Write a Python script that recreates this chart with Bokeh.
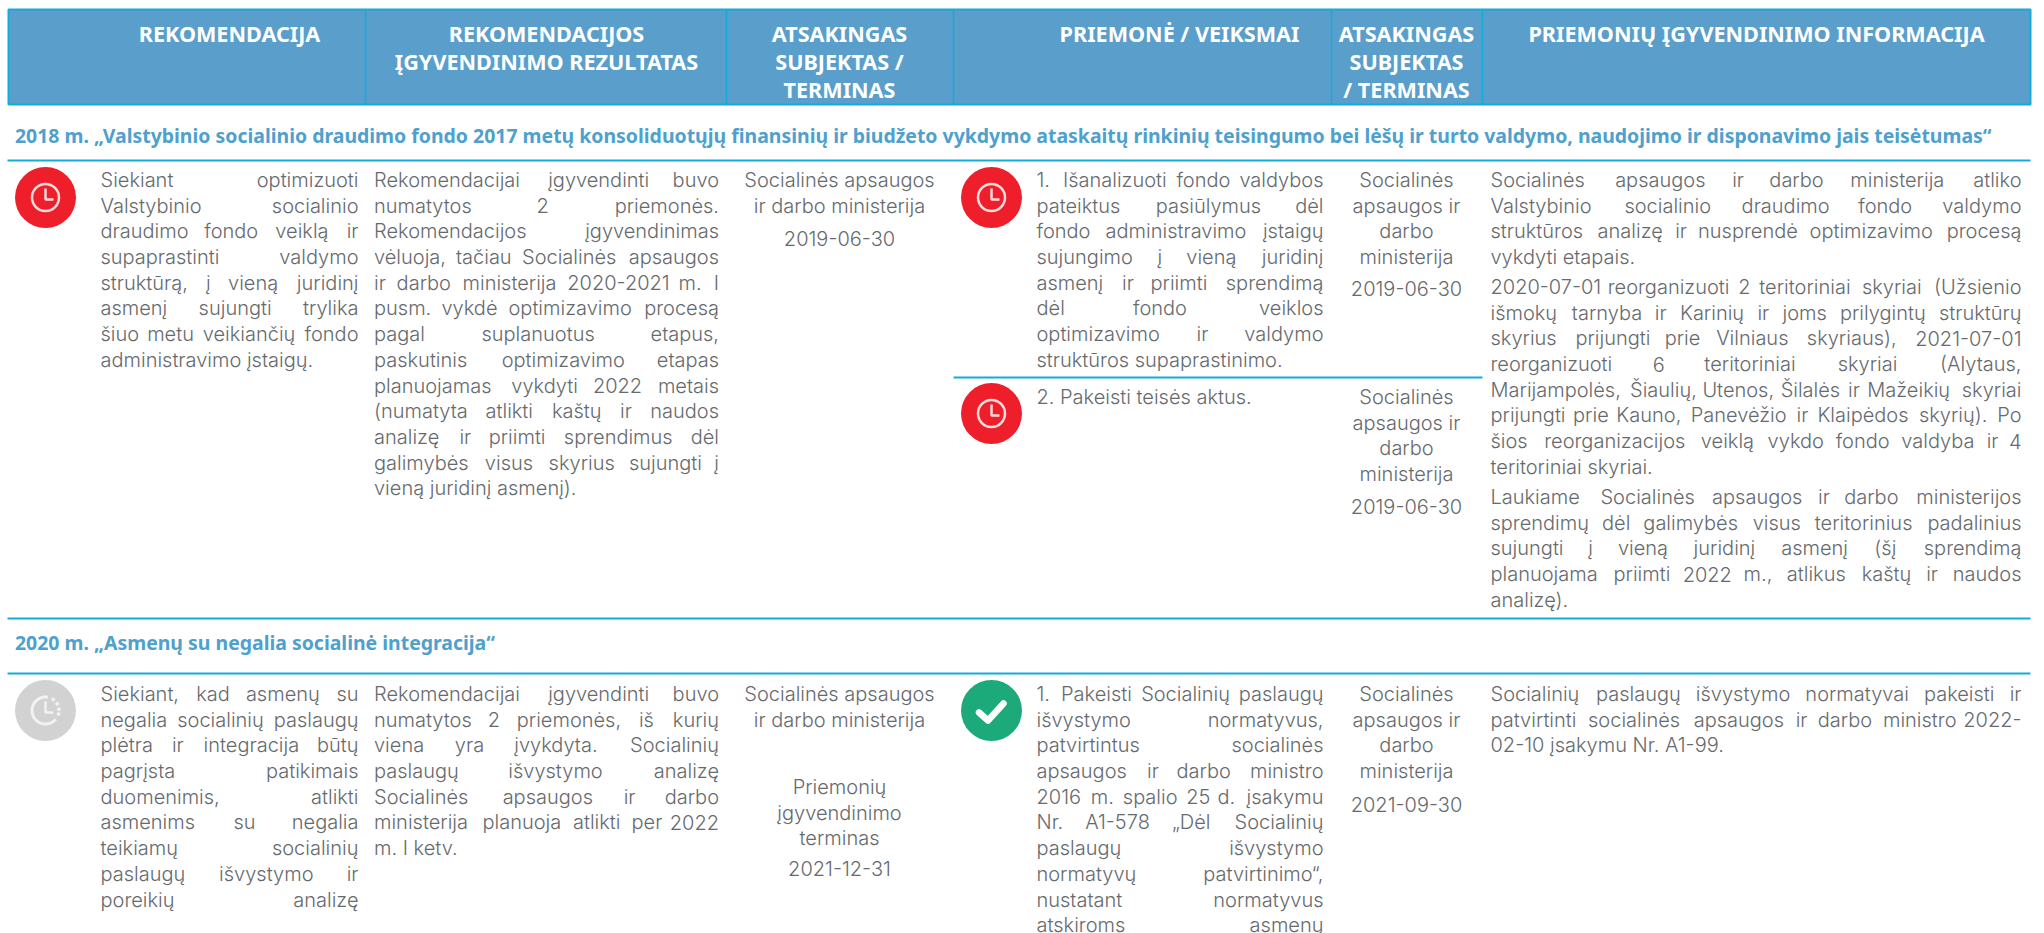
import numpy as np
from bokeh.plotting import figure
from bokeh.models import Range1d, ColumnDataSource
from bokeh.core.properties import value
from bokeh.embed import file_html
from bokeh.resources import INLINE

FONT = "Inter Light"
HEAD_FONT = "Noto Sans"
BODY = 20
GREY = "#666a6e"
RULE = "#12acd9"
HEAD = "#5a9fcc"
TITLE = "#4ea0cd"
LIFT = 0.33  # the svg text baseline sits lower than asked; lift by this share of the font size

HEADERS = [["REKOMENDACIJA"],
           ["REKOMENDACIJOS", "ĮGYVENDINIMO REZULTATAS"],
           ["ATSAKINGAS", "SUBJEKTAS /", "TERMINAS"],
           ["PRIEMONĖ / VEIKSMAI"],
           ["ATSAKINGAS", "SUBJEKTAS", "/ TERMINAS"],
           ["PRIEMONIŲ ĮGYVENDINIMO INFORMACIJA"]]
HEAD_CENTERS = [229, 546, 839, 1179, 1406, 1756]
HEAD_DIVIDERS = [365, 726, 953, 1331, 1482]

TITLE_1 = "2018 m. „Valstybinio socialinio draudimo fondo 2017 metų konsoliduotųjų finansinių ir biudžeto vykdymo ataskaitų rinkinių teisingumo bei lėšų ir turto valdymo, naudojimo ir disponavimo jais teisėtumas“"
TITLE_2 = "2020 m. „Asmenų su negalia socialinė integracija“"

REC_1 = ["Siekiant optimizuoti", "Valstybinio socialinio", "draudimo fondo veiklą ir", "supaprastinti valdymo",
         "struktūrą, į vieną juridinį", "asmenį sujungti trylika", "šiuo metu veikiančių fondo", "administravimo įstaigų."]
RES_1 = ["Rekomendacijai įgyvendinti buvo", "numatytos 2 priemonės.", "Rekomendacijos įgyvendinimas",
         "vėluoja, tačiau Socialinės apsaugos", "ir darbo ministerija 2020-2021 m. I", "pusm. vykdė optimizavimo procesą",
         "pagal suplanuotus etapus,", "paskutinis optimizavimo etapas", "planuojamas vykdyti 2022 metais",
         "(numatyta atlikti kaštų ir naudos", "analizę ir priimti sprendimus dėl", "galimybės visus skyrius sujungti į",
         "vieną juridinį asmenį)."]
ACT_1A = ["1. Išanalizuoti fondo valdybos", "pateiktus pasiūlymus dėl", "fondo administravimo įstaigų",
          "sujungimo į vieną juridinį", "asmenį ir priimti sprendimą", "dėl fondo veiklos",
          "optimizavimo ir valdymo", "struktūros supaprastinimo."]
ACT_1B = ["2. Pakeisti teisės aktus."]
INFO_1A = ["Socialinės apsaugos ir darbo ministerija atliko", "Valstybinio socialinio draudimo fondo valdymo",
           "struktūros analizę ir nusprendė optimizavimo procesą", "vykdyti etapais."]
INFO_1B = ["2020-07-01 reorganizuoti 2 teritoriniai skyriai (Užsienio", "išmokų tarnyba ir Karinių ir joms prilygintų struktūrų",
           "skyrius prijungti prie Vilniaus skyriaus), 2021-07-01", "reorganizuoti 6 teritoriniai skyriai (Alytaus,",
           "Marijampolės, Šiaulių, Utenos, Šilalės ir Mažeikių skyriai", "prijungti prie Kauno, Panevėžio ir Klaipėdos skyrių). Po",
           "šios reorganizacijos veiklą vykdo fondo valdyba ir 4", "teritoriniai skyriai."]
INFO_1C = ["Laukiame Socialinės apsaugos ir darbo ministerijos", "sprendimų dėl galimybės visus teritorinius padalinius",
           "sujungti į vieną juridinį asmenį (šį sprendimą", "planuojama priimti 2022 m., atlikus kaštų ir naudos", "analizę)."]
REC_2 = ["Siekiant, kad asmenų su", "negalia socialinių paslaugų", "plėtra ir integracija būtų", "pagrįsta patikimais",
         "duomenimis, atlikti", "asmenims su negalia", "teikiamų socialinių", "paslaugų išvystymo ir", "poreikių analizę"]
RES_2 = ["Rekomendacijai įgyvendinti buvo", "numatytos 2 priemonės, iš kurių", "viena yra įvykdyta. Socialinių",
         "paslaugų išvystymo analizę", "Socialinės apsaugos ir darbo", "ministerija planuoja atlikti per 2022", "m. I ketv."]
ACT_2 = ["1. Pakeisti Socialinių paslaugų", "išvystymo normatyvus,", "patvirtintus socialinės", "apsaugos ir darbo ministro",
         "2016 m. spalio 25 d. įsakymu", "Nr. A1-578 „Dėl Socialinių", "paslaugų išvystymo", "normatyvų patvirtinimo“,",
         "nustatant normatyvus", "atskiroms asmenų"]
INFO_2 = ["Socialinių paslaugų išvystymo normatyvai pakeisti ir", "patvirtinti socialinės apsaugos ir darbo ministro 2022-",
          "02-10 įsakymu Nr. A1-99."]
MIN_LINES = ["Socialinės apsaugos", "ir darbo ministerija"]
MIN_NARROW = ["Socialinės", "apsaugos ir", "darbo", "ministerija"]
TERM_LINES = ["Priemonių", "įgyvendinimo", "terminas"]
DATES = ["2019-06-30", "2021-12-31", "2021-09-30"]

p = figure(width=2032, height=933, x_range=Range1d(0, 2032), y_range=Range1d(933, 0),
           toolbar_location=None, output_backend="svg", min_border=0, outline_line_color=None,
           background_fill_color="white", x_axis_type=None, y_axis_type=None)
p.grid.visible = False

# header band
p.quad(left=[8], right=[2030], top=[9], bottom=[104], fill_color=HEAD, line_color=RULE, line_width=2)
for x in HEAD_DIVIDERS:
    p.line([x, x], [9, 104], line_color=RULE, line_width=1.5)
for y in [160, 618, 673]:
    p.line([7, 2030], [y, y], line_color=RULE, line_width=2)
p.line([953, 1482], [377, 377], line_color=RULE, line_width=2)

HEAD_SIZE = 21.6
for cx, lines in zip(HEAD_CENTERS, HEADERS):
    p.text(x=[cx] * len(lines), y=[40 - LIFT * HEAD_SIZE + 28 * i for i in range(len(lines))], text=lines,
           text_font=value(HEAD_FONT), text_font_style="bold", text_font_size=f"{HEAD_SIZE}px", text_color="white",
           text_align="center", text_baseline="alphabetic")

TITLE_SIZE = 19.45
for y, t in [(141, TITLE_1), (648, TITLE_2)]:
    p.text(x=[14.5], y=[y - LIFT * TITLE_SIZE], text=[t], text_font=value(HEAD_FONT), text_font_style="bold",
           text_font_size=f"{TITLE_SIZE}px", text_color=TITLE, text_baseline="alphabetic")

NARROW = set("ijlítįĮ.,;:!|'‚ ")
MID = set("frI()-/\"“„")
WIDE = set("mwMW")


def est(word):
    w = 0.0
    for c in word:
        if c in NARROW:
            w += 0.26
        elif c in MID:
            w += 0.38
        elif c in WIDE:
            w += 0.88
        elif c.isupper():
            w += 0.66
        else:
            w += 0.58
    return w * BODY


tx, ty, tt, ta = [], [], [], []


def put(x, y, t, a):
    tx.append(x); ty.append(y - LIFT * BODY); tt.append(t); ta.append(a)


def block(lines, y0, left, right, justify_last=False):
    for i, line in enumerate(lines):
        y = y0 + 25.7 * i
        words = line.split(" ")
        if len(words) == 1 or (i == len(lines) - 1 and not justify_last):
            put(left, y, line, "left")
            continue
        widths = [est(w) for w in words]
        gap = (right - left - sum(widths)) / (len(words) - 1)
        pos = left
        for j, (w, wd) in enumerate(zip(words, widths)):
            if j == 0:
                put(left, y, w, "left")
            elif j == len(words) - 1:
                put(right, y, w, "right")
            else:
                put(pos + wd / 2, y, w, "center")
            pos += wd + gap


def center(lines, y0, cx):
    for i, line in enumerate(lines):
        put(cx, y0 + 25.7 * i, line, "center")


block(REC_1, 186, 100, 358)
block(RES_1, 186, 373.5, 718.5)
center(MIN_LINES, 186, 839)
center(DATES[:1], 245, 839)
block(ACT_1A, 186, 1036, 1323)
block(ACT_1B, 403, 1036, 1323)
center(MIN_NARROW, 186, 1406)
center(DATES[:1], 295, 1406)
center(MIN_NARROW, 403, 1406)
center(DATES[:1], 513, 1406)
block(INFO_1A, 186, 1490, 2021)
block(INFO_1B, 293, 1490, 2021)
block(INFO_1C, 503, 1490, 2021)
block(REC_2, 700, 100, 358, justify_last=True)
block(RES_2, 700, 373.5, 718.5)
center(MIN_LINES, 700, 839)
center(TERM_LINES, 793, 839)
center(DATES[1:2], 875, 839)
block(ACT_2, 700, 1036, 1323, justify_last=True)
center(MIN_NARROW, 700, 1406)
center(DATES[2:], 811, 1406)
block(INFO_2, 700, 1490, 2021)

p.text(x="x", y="y", text="t", text_align="a", source=ColumnDataSource(dict(x=tx, y=ty, t=tt, a=ta)),
       text_font=value(FONT), text_font_size=f"{BODY}px", text_color=GREY, text_baseline="alphabetic")

# status icons
RED_ICONS = [(45, 197), (991, 197), (991, 413)]
for cx, cy in RED_ICONS:
    p.circle(x=[cx], y=[cy], radius=30.5, fill_color="#ee1f2b", line_color=None)
    p.circle(x=[cx], y=[cy], radius=13.5, fill_color=None, line_color="#ffdcdc", line_width=2.5)
    p.line([cx, cx, cx + 8], [cy - 9, cy + 2, cy + 2], line_color="#ffdcdc", line_width=2.5)

gx, gy = 45, 710
p.circle(x=[gx], y=[gy], radius=30.5, fill_color="#d2d2d2", line_color=None)
ang = np.radians(np.linspace(80, 320, 60))
p.line(gx + 13.5 * np.cos(ang), gy - 13.5 * np.sin(ang), line_color="#f2f2f2", line_width=3)
p.line([gx, gx, gx + 8], [gy - 9, gy + 2, gy + 2], line_color="#f2f2f2", line_width=2.5)
da = np.radians([55, 30, 5, -15])
p.scatter(gx + 13.5 * np.cos(da), gy - 13.5 * np.sin(da), size=3, color="#f2f2f2")

kx, ky = 991, 710
p.circle(x=[kx], y=[ky], radius=30.5, fill_color="#1caa7a", line_color=None)
p.line([kx - 12.5, kx - 3.5, kx + 12], [ky + 2, ky + 10, ky - 7], line_color="white", line_width=6.5,
       line_join="round", line_cap="round")

open("out.html", "w").write(file_html(p, INLINE))
